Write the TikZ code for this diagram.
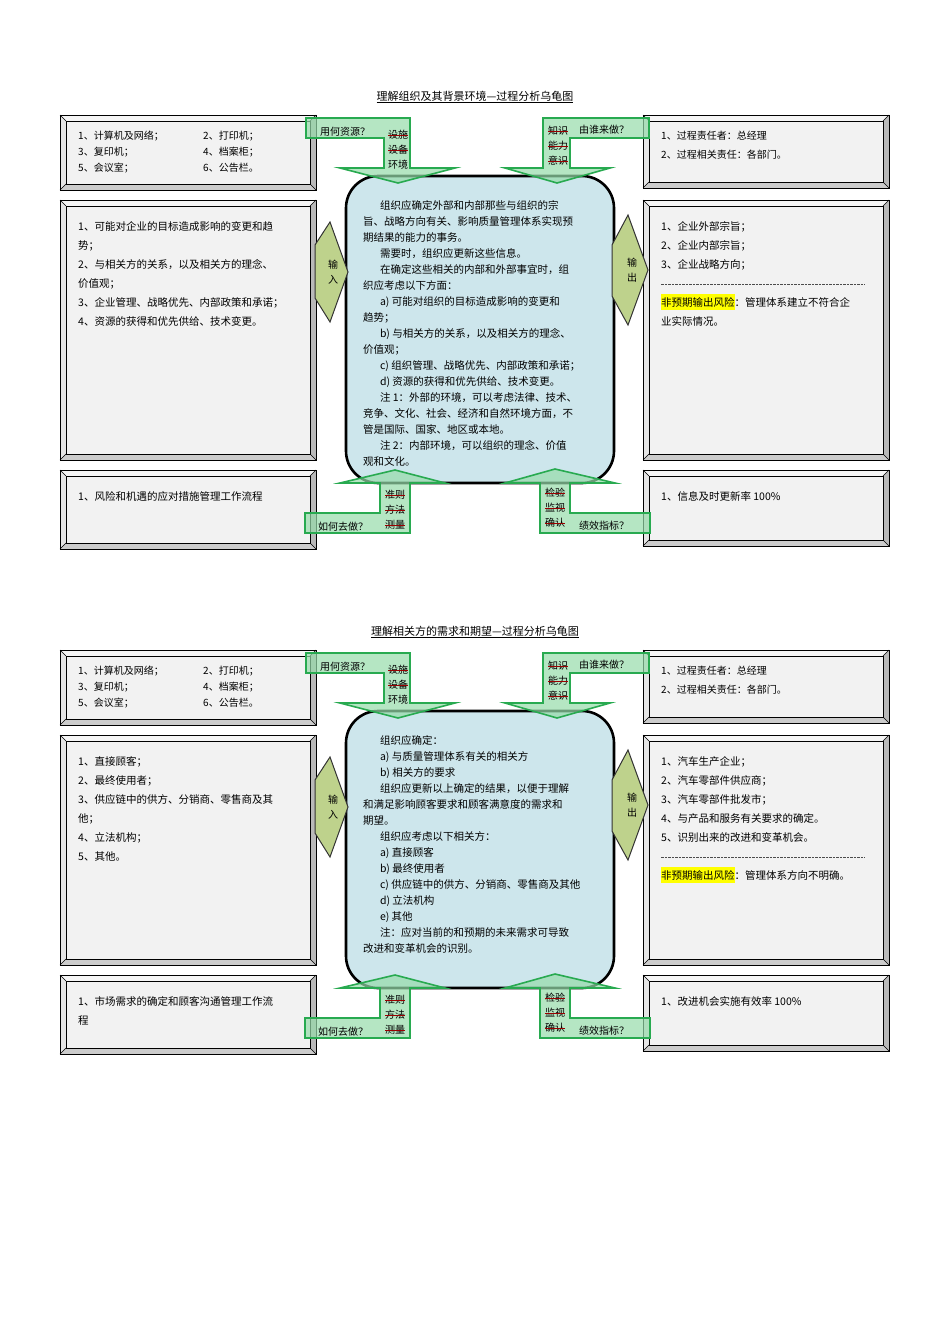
\documentclass[tikz,border=0pt]{standalone}
\usepackage{fontspec}
\setmainfont{Noto Sans CJK SC}
\usepackage{xcolor}
\definecolor{cbg}{RGB}{205,230,236}
\definecolor{olv}{RGB}{190,210,140}
\definecolor{grn}{RGB}{40,170,80}
\definecolor{grnf}{RGB}{150,220,170}
\definecolor{hl}{RGB}{255,255,0}
\newcommand\rs[1]{\tikz[baseline=(s.base)]{\node[inner sep=0,outer sep=0](s){#1};\draw[red!60!black,line width=0.6] (s.west)--(s.east);}}
\newcommand\dline{\tikz[baseline=-3pt]{\draw[black!70,line width=0.5,dash pattern=on 2.5pt off 1pt] (0pt,0pt)--(204pt,0pt);}}
\newcommand\bevbox[4]{%
 \fill[gray!55] (#1,#2) rectangle (#3,#4);
 \fill[gray!8] (#1,#2)--(#3,#2)--(#3-6,#2+6)--(#1+6,#2+6)--cycle;
 \fill[gray!20] (#1,#2)--(#1+6,#2+6)--(#1+6,#4-6)--(#1,#4)--cycle;
 \fill[gray!40] (#1,#4)--(#1+6,#4-6)--(#3-6,#4-6)--(#3,#4)--cycle;
 \draw[black,line width=0.6] (#1,#2) rectangle (#3,#4);
 \draw[black,line width=0.4] (#1,#2)--(#1+6,#2+6) (#3,#2)--(#3-6,#2+6) (#1,#4)--(#1+6,#4-6) (#3,#4)--(#3-6,#4-6);
 \fill[gray!10,draw=black,line width=0.6] (#1+6,#2+6) rectangle (#3-6,#4-6);}
\tikzset{
 gar/.style={fill=grnf,fill opacity=0.7,draw=grn,line width=1.6},
 iot/.style={fill=olv,draw=black!80,line width=1},
 txt/.style={inner sep=0,font=\fontsize{10}{15}\selectfont,align=left},
 btx/.style={inner sep=0,font=\fontsize{10.5}{19}\selectfont,align=left,anchor=north west},
 ctx/.style={inner sep=0,font=\fontsize{10.5}{16}\selectfont,align=left,anchor=north west},
 atx/.style={inner sep=0,font=\fontsize{10}{15}\selectfont,align=center},
}
\newcommand\lo{0}
\newcommand\turtle[9]{%
\begin{scope}[shift={(0,#1)},name prefix=#2-]
\node[font=\fontsize{11}{13}\selectfont,inner sep=0] (title) at (475,97) {\underline{#3}};
\bevbox{60}{115}{316}{190}
\bevbox{60}{200}{316}{460+\lo}
\bevbox{60}{470+\lo}{316}{549+\lo}
\bevbox{643}{115}{889}{188}
\bevbox{643}{200}{889}{460+\lo}
\bevbox{643}{470+\lo}{889}{546+\lo}
\node[inner sep=0,anchor=north west,font=\fontsize{10}{16}\selectfont,align=left] (res1) at (78,131) {1、计算机及网络；\\3、复印机；\\5、会议室；};
\node[inner sep=0,anchor=north west,font=\fontsize{10}{16}\selectfont,align=left] (res2) at (203,131) {2、打印机；\\4、档案柜；\\6、公告栏。};
\node[inner sep=0,anchor=north west,font=\fontsize{10}{19}\selectfont,align=left] (who) at (661,131) {1、过程责任者：总经理\\2、过程相关责任：各部门。};
\node[btx] (lin) at (78,221) {#4};
\node[btx] (rout) at (661,221) {#6};
\node[btx] (lbot) at (78,491+\lo) {#7};
\node[btx] (rbot) at (661,491+\lo) {#8};
\draw[fill=cbg,draw=black,line width=2.6,rounded corners=32] (346,176) rectangle (614,483+\lo);
\node[ctx] (core) at (363,#9) {#5};
\draw[iot] (315,245)--(330,222)--(348,272)--(330,322)--(315,298)--cycle;
\node[atx] (inl) at (333,272) {输\\入};
\draw[iot] (612,245)--(628,215)--(648,270)--(628,325)--(612,296)--cycle;
\node[atx] (outl) at (632,270) {输\\出};
\draw[gar] (306,118)--(410,118)--(410,168)--(455,168)--(398,183)--(340,168)--(384,168)--(384,138)--(306,138)--cycle;
\draw[gar] (543,118)--(649,118)--(649,138)--(570,138)--(570,168)--(610,168)--(557,183)--(505,168)--(543,168)--cycle;
\begin{scope}[shift={(0,\lo)}]
\draw[gar] (340,483)--(395,470)--(445,483)--(410,483)--(410,533)--(305,533)--(305,513)--(380,513)--(380,483)--cycle;
\draw[gar] (505,483)--(555,469)--(615,483)--(570,483)--(570,513)--(650,513)--(650,533)--(540,533)--(540,483)--cycle;
\node[txt,anchor=west] (q3) at (318,527) {如何去做？};
\node[atx] (r3) at (395,510) {\rs{准则}\\\rs{方法}\\\rs{测量}};
\node[txt,anchor=west] (q4) at (579,526) {绩效指标？};
\node[atx] (r4) at (555,508) {\rs{检验}\\\rs{监视}\\\rs{确认}};
\end{scope}
\node[txt,anchor=west] (q1) at (320,132) {用何资源？};
\node[atx] (r1) at (398,150) {\rs{设施}\\\rs{设备}\\环境};
\node[txt,anchor=west] (q2) at (579,130) {由谁来做？};
\node[atx] (r2) at (558,146) {\rs{知识}\\\rs{能力}\\\rs{意识}};
\end{scope}}
\begin{document}
\begin{tikzpicture}[x=1pt,y=-1pt]
\useasboundingbox[fill=white] (0,0) rectangle (950,1344);
\turtle{0}{a}{理解组织及其背景环境—过程分析乌龟图}
{1、可能对企业的目标造成影响的变更和趋\\势；\\2、与相关方的关系，以及相关方的理念、\\价值观；\\3、企业管理、战略优先、内部政策和承诺；\\4、资源的获得和优先供给、技术变更。}
{\hspace*{1.6em}组织应确定外部和内部那些与组织的宗\\旨、战略方向有关、影响质量管理体系实现预\\期结果的能力的事务。\\\hspace*{1.6em}需要时，组织应更新这些信息。\\\hspace*{1.6em}在确定这些相关的内部和外部事宜时，组\\织应考虑以下方面：\\\hspace*{1.6em}a) 可能对组织的目标造成影响的变更和\\趋势；\\\hspace*{1.6em}b) 与相关方的关系，以及相关方的理念、\\价值观；\\\hspace*{1.6em}c) 组织管理、战略优先、内部政策和承诺；\\\hspace*{1.6em}d) 资源的获得和优先供给、技术变更。\\\hspace*{1.6em}注 1：外部的环境，可以考虑法律、技术、\\竞争、文化、社会、经济和自然环境方面，不\\管是国际、国家、地区或本地。\\\hspace*{1.6em}注 2：内部环境，可以组织的理念、价值\\观和文化。}
{1、企业外部宗旨；\\2、企业内部宗旨；\\3、企业战略方向；\\\dline\\\colorbox{hl}{\kern-3pt 非预期输出风险\kern-3pt}：管理体系建立不符合企\\业实际情况。}
{1、风险和机遇的应对措施管理工作流程}
{1、信息及时更新率 100\%}
{200}
\renewcommand\lo{-30}
\turtle{535}{b}{理解相关方的需求和期望—过程分析乌龟图}
{1、直接顾客；\\2、最终使用者；\\3、供应链中的供方、分销商、零售商及其\\他；\\4、立法机构；\\5、其他。}
{\hspace*{1.6em}组织应确定：\\\hspace*{1.6em}a) 与质量管理体系有关的相关方\\\hspace*{1.6em}b) 相关方的要求\\\hspace*{1.6em}组织应更新以上确定的结果，以便于理解\\和满足影响顾客要求和顾客满意度的需求和\\期望。\\\hspace*{1.6em}组织应考虑以下相关方：\\\hspace*{1.6em}a) 直接顾客\\\hspace*{1.6em}b) 最终使用者\\\hspace*{1.6em}c) 供应链中的供方、分销商、零售商及其他\\\hspace*{1.6em}d) 立法机构\\\hspace*{1.6em}e) 其他\\\hspace*{1.6em}注：应对当前的和预期的未来需求可导致\\改进和变革机会的识别。}
{1、汽车生产企业；\\2、汽车零部件供应商；\\3、汽车零部件批发市；\\4、与产品和服务有关要求的确定。\\5、识别出来的改进和变革机会。\\\dline\\\colorbox{hl}{\kern-3pt 非预期输出风险\kern-3pt}：管理体系方向不明确。}
{1、市场需求的确定和顾客沟通管理工作流\\程}
{1、改进机会实施有效率 100\%}
{200}
\end{tikzpicture}
\end{document}
